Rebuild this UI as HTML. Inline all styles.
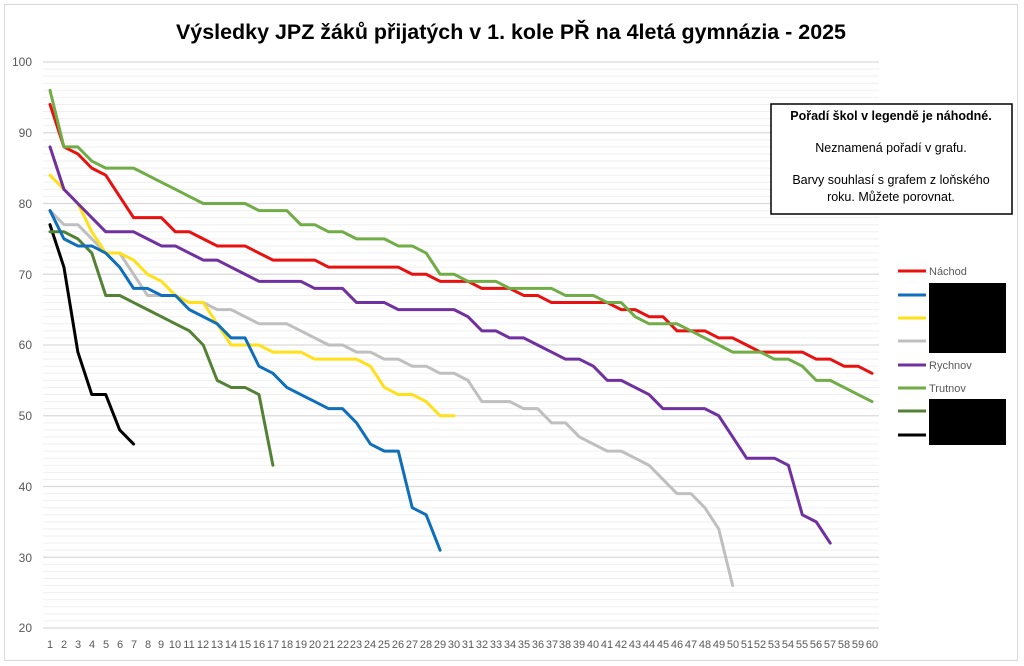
<!DOCTYPE html>
<html><head><meta charset="utf-8"><style>
html,body{margin:0;padding:0;background:#fff;}
svg{display:block;font-family:"Liberation Sans",Arial,sans-serif;}
</style></head><body>
<svg width="1024" height="666" viewBox="0 0 1024 666" xmlns="http://www.w3.org/2000/svg">
<rect x="0" y="0" width="1024" height="666" fill="#fff"/>
<rect x="4.5" y="4.5" width="1013" height="656" fill="none" stroke="#d9d9d9" stroke-width="1"/>
<text x="511" y="39" text-anchor="middle" font-size="21" font-weight="bold" textLength="670" lengthAdjust="spacingAndGlyphs" fill="#000">Výsledky JPZ žáků přijatých v 1. kole PŘ na 4letá gymnázia  - 2025</text>

<g transform="matrix(13.932 0 0 -7.075 36.068 769.5)" fill="none">
<g stroke="#efefef" stroke-width="1" vector-effect="non-scaling-stroke">
<path vector-effect="non-scaling-stroke" d="M0.5 21H60.5M0.5 22H60.5M0.5 23H60.5M0.5 24H60.5M0.5 25H60.5M0.5 26H60.5M0.5 27H60.5M0.5 28H60.5M0.5 29H60.5M0.5 31H60.5M0.5 32H60.5M0.5 33H60.5M0.5 34H60.5M0.5 35H60.5M0.5 36H60.5M0.5 37H60.5M0.5 38H60.5M0.5 39H60.5M0.5 41H60.5M0.5 42H60.5M0.5 43H60.5M0.5 44H60.5M0.5 45H60.5M0.5 46H60.5M0.5 47H60.5M0.5 48H60.5M0.5 49H60.5M0.5 51H60.5M0.5 52H60.5M0.5 53H60.5M0.5 54H60.5M0.5 55H60.5M0.5 56H60.5M0.5 57H60.5M0.5 58H60.5M0.5 59H60.5M0.5 61H60.5M0.5 62H60.5M0.5 63H60.5M0.5 64H60.5M0.5 65H60.5M0.5 66H60.5M0.5 67H60.5M0.5 68H60.5M0.5 69H60.5M0.5 71H60.5M0.5 72H60.5M0.5 73H60.5M0.5 74H60.5M0.5 75H60.5M0.5 76H60.5M0.5 77H60.5M0.5 78H60.5M0.5 79H60.5M0.5 81H60.5M0.5 82H60.5M0.5 83H60.5M0.5 84H60.5M0.5 85H60.5M0.5 86H60.5M0.5 87H60.5M0.5 88H60.5M0.5 89H60.5M0.5 91H60.5M0.5 92H60.5M0.5 93H60.5M0.5 94H60.5M0.5 95H60.5M0.5 96H60.5M0.5 97H60.5M0.5 98H60.5M0.5 99H60.5"/>
</g>
<path stroke="#d9d9d9" stroke-width="1.3" vector-effect="non-scaling-stroke" d="M0.5 20H60.5M0.5 30H60.5M0.5 40H60.5M0.5 50H60.5M0.5 60H60.5M0.5 70H60.5M0.5 80H60.5M0.5 90H60.5M0.5 100H60.5"/>
<g stroke-width="3" stroke-linejoin="round" stroke-linecap="round">
<polyline vector-effect="non-scaling-stroke" stroke="#000000" points="1,77 2,71 3,59 4,53 5,53 6,48 7,46"/>
<polyline vector-effect="non-scaling-stroke" stroke="#548235" points="1,76 2,76 3,75 4,73 5,67 6,67 7,66 8,65 9,64 10,63 11,62 12,60 13,55 14,54 15,54 16,53 17,43"/>
<polyline vector-effect="non-scaling-stroke" stroke="#bfbfbf" points="1,79 2,77 3,77 4,75 5,73 6,73 7,70 8,67 9,67 10,67 11,66 12,66 13,65 14,65 15,64 16,63 17,63 18,63 19,62 20,61 21,60 22,60 23,59 24,59 25,58 26,58 27,57 28,57 29,56 30,56 31,55 32,52 33,52 34,52 35,51 36,51 37,49 38,49 39,47 40,46 41,45 42,45 43,44 44,43 45,41 46,39 47,39 48,37 49,34 50,26"/>
<polyline vector-effect="non-scaling-stroke" stroke="#ffe01a" points="1,84 2,82 3,80 4,76 5,73 6,73 7,72 8,70 9,69 10,67 11,66 12,66 13,63 14,60 15,60 16,60 17,59 18,59 19,59 20,58 21,58 22,58 23,58 24,57 25,54 26,53 27,53 28,52 29,50 30,50"/>
<polyline vector-effect="non-scaling-stroke" stroke="#0f6fba" points="1,79 2,75 3,74 4,74 5,73 6,71 7,68 8,68 9,67 10,67 11,65 12,64 13,63 14,61 15,61 16,57 17,56 18,54 19,53 20,52 21,51 22,51 23,49 24,46 25,45 26,45 27,37 28,36 29,31"/>
<polyline vector-effect="non-scaling-stroke" stroke="#7030a0" points="1,88 2,82 3,80 4,78 5,76 6,76 7,76 8,75 9,74 10,74 11,73 12,72 13,72 14,71 15,70 16,69 17,69 18,69 19,69 20,68 21,68 22,68 23,66 24,66 25,66 26,65 27,65 28,65 29,65 30,65 31,64 32,62 33,62 34,61 35,61 36,60 37,59 38,58 39,58 40,57 41,55 42,55 43,54 44,53 45,51 46,51 47,51 48,51 49,50 50,47 51,44 52,44 53,44 54,43 55,36 56,35 57,32"/>
<polyline vector-effect="non-scaling-stroke" stroke="#e8110f" points="1,94 2,88 3,87 4,85 5,84 6,81 7,78 8,78 9,78 10,76 11,76 12,75 13,74 14,74 15,74 16,73 17,72 18,72 19,72 20,72 21,71 22,71 23,71 24,71 25,71 26,71 27,70 28,70 29,69 30,69 31,69 32,68 33,68 34,68 35,67 36,67 37,66 38,66 39,66 40,66 41,66 42,65 43,65 44,64 45,64 46,62 47,62 48,62 49,61 50,61 51,60 52,59 53,59 54,59 55,59 56,58 57,58 58,57 59,57 60,56"/>
<polyline vector-effect="non-scaling-stroke" stroke="#70ad47" points="1,96 2,88 3,88 4,86 5,85 6,85 7,85 8,84 9,83 10,82 11,81 12,80 13,80 14,80 15,80 16,79 17,79 18,79 19,77 20,77 21,76 22,76 23,75 24,75 25,75 26,74 27,74 28,73 29,70 30,70 31,69 32,69 33,69 34,68 35,68 36,68 37,68 38,67 39,67 40,67 41,66 42,66 43,64 44,63 45,63 46,63 47,62 48,61 49,60 50,59 51,59 52,59 53,58 54,58 55,57 56,55 57,55 58,54 59,53 60,52"/>
</g>
</g>

<g font-size="12" fill="#595959" text-anchor="end">
<text x="32" y="66">100</text>
<text x="32" y="137">90</text>
<text x="32" y="208">80</text>
<text x="32" y="279">70</text>
<text x="32" y="349">60</text>
<text x="32" y="420">50</text>
<text x="32" y="491">40</text>
<text x="32" y="562">30</text>
<text x="32" y="632">20</text>
</g>
<g font-size="11" fill="#595959" text-anchor="middle">
<text x="50" y="648">1</text><text x="64" y="648">2</text><text x="78" y="648">3</text><text x="92" y="648">4</text><text x="106" y="648">5</text><text x="120" y="648">6</text><text x="134" y="648">7</text><text x="148" y="648">8</text><text x="161" y="648">9</text><text x="175" y="648">10</text>
<text x="189" y="648">11</text><text x="203" y="648">12</text><text x="217" y="648">13</text><text x="231" y="648">14</text><text x="245" y="648">15</text><text x="259" y="648">16</text><text x="273" y="648">17</text><text x="287" y="648">18</text><text x="301" y="648">19</text><text x="315" y="648">20</text>
<text x="329" y="648">21</text><text x="343" y="648">22</text><text x="356" y="648">23</text><text x="370" y="648">24</text><text x="384" y="648">25</text><text x="398" y="648">26</text><text x="412" y="648">27</text><text x="426" y="648">28</text><text x="440" y="648">29</text><text x="454" y="648">30</text>
<text x="468" y="648">31</text><text x="482" y="648">32</text><text x="496" y="648">33</text><text x="510" y="648">34</text><text x="524" y="648">35</text><text x="538" y="648">36</text><text x="552" y="648">37</text><text x="565" y="648">38</text><text x="579" y="648">39</text><text x="593" y="648">40</text>
<text x="607" y="648">41</text><text x="621" y="648">42</text><text x="635" y="648">43</text><text x="649" y="648">44</text><text x="663" y="648">45</text><text x="677" y="648">46</text><text x="691" y="648">47</text><text x="705" y="648">48</text><text x="719" y="648">49</text><text x="733" y="648">50</text>
<text x="747" y="648">51</text><text x="760" y="648">52</text><text x="774" y="648">53</text><text x="788" y="648">54</text><text x="802" y="648">55</text><text x="816" y="648">56</text><text x="830" y="648">57</text><text x="844" y="648">58</text><text x="858" y="648">59</text><text x="872" y="648">60</text>
</g>

<rect x="771" y="104" width="241" height="110" fill="#fff" stroke="#000" stroke-width="1.5"/>
<g font-size="12.5" fill="#000" text-anchor="middle">
<text x="891" y="120" font-weight="bold">Pořadí škol v legendě je náhodné.</text>
<text x="891" y="152">Neznamená pořadí v grafu.</text>
<text x="891" y="184">Barvy souhlasí s grafem z loňského</text>
<text x="891" y="201">roku. Můžete porovnat.</text>
</g>

<g stroke-width="3">
<line x1="898" y1="271" x2="926" y2="271" stroke="#e8110f"/>
<line x1="898" y1="295" x2="926" y2="295" stroke="#0f6fba"/>
<line x1="898" y1="318" x2="926" y2="318" stroke="#ffe01a"/>
<line x1="898" y1="341" x2="926" y2="341" stroke="#bfbfbf"/>
<line x1="898" y1="365" x2="926" y2="365" stroke="#7030a0"/>
<line x1="898" y1="388" x2="926" y2="388" stroke="#70ad47"/>
<line x1="898" y1="411" x2="926" y2="411" stroke="#548235"/>
<line x1="898" y1="435" x2="926" y2="435" stroke="#000"/>
</g>
<g font-size="11" fill="#595959">
<text x="929" y="275">Náchod</text>
<text x="929" y="369">Rychnov</text>
<text x="929" y="392">Trutnov</text>
</g>
<rect x="929" y="283" width="77" height="70" fill="#000"/>
<rect x="929" y="399" width="77" height="46" fill="#000"/>
</svg>
</body></html>
